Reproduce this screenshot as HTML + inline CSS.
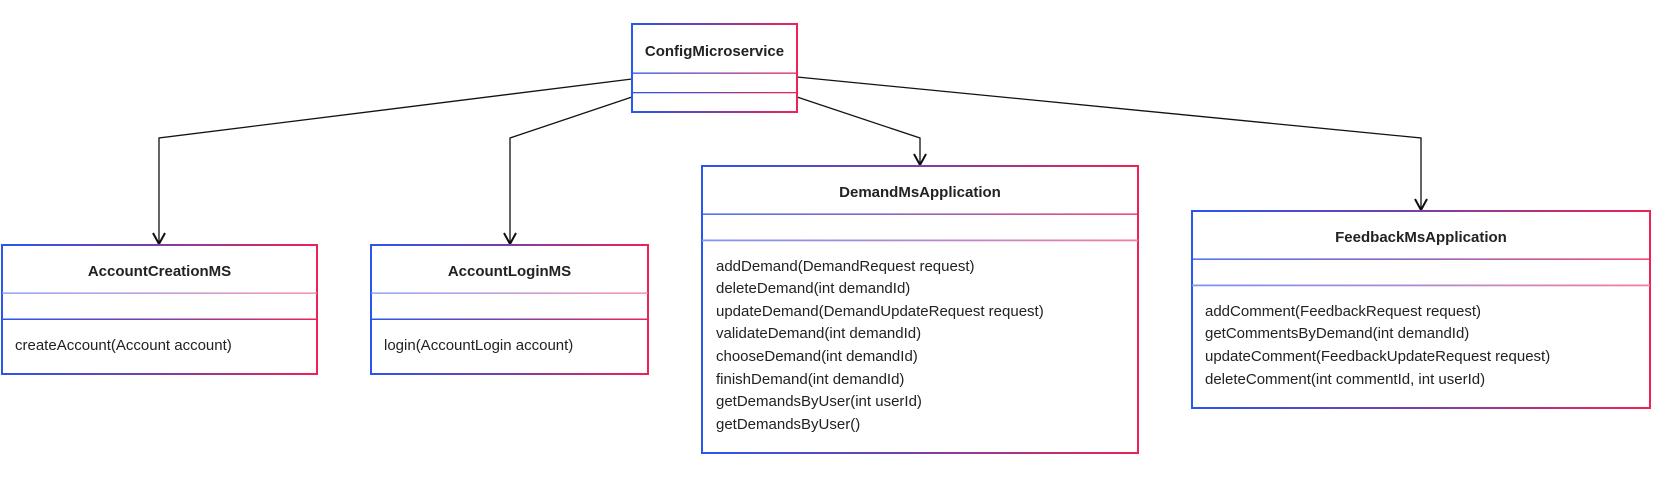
<!DOCTYPE html>
<html><head><meta charset="utf-8"><style>
html,body{margin:0;padding:0;background:#fff;}
svg text{font-family:"Liberation Sans",Arial,sans-serif;fill:#222;}
.t{font-weight:bold;font-size:15px;}
.m{font-size:15px;}
</style></head><body>
<svg width="1656" height="478" viewBox="0 0 1656 478" xmlns="http://www.w3.org/2000/svg">
<defs>
<linearGradient id="g" x1="0" y1="0" x2="1" y2="0"><stop offset="0" stop-color="#2a55ee"/><stop offset="0.5" stop-color="#7a3fa8"/><stop offset="1" stop-color="#ee2255"/></linearGradient>
<linearGradient id="gl" x1="0" y1="0" x2="1" y2="0"><stop offset="0" stop-color="#7f95f5"/><stop offset="0.5" stop-color="#b28ad0"/><stop offset="1" stop-color="#f27ea0"/></linearGradient>
</defs>
<g fill="none" stroke="#111" stroke-width="1.3">
<polyline points="632,79 159,138 159,243"/>
<polyline points="632,97 510,138 510,243"/>
<polyline points="797,97 920,138 920,164"/>
<polyline points="797,77 1421,138 1421,209"/>
</g>
<g fill="none" stroke="#111" stroke-width="2">
<polyline points="153,233 159,244 165,233"/>
<polyline points="504,233 510,244 516,233"/>
<polyline points="914,154 920,165 926,154"/>
<polyline points="1415,199 1421,210 1427,199"/>
</g>
<g fill="none" stroke-width="2">
<rect x="632" y="24" width="165" height="88" stroke="url(#g)"/>
<rect x="2" y="245" width="315" height="129" stroke="url(#g)"/>
<rect x="371" y="245" width="277" height="129" stroke="url(#g)"/>
<rect x="702" y="166" width="436" height="287" stroke="url(#g)"/>
<rect x="1192" y="211" width="458" height="197" stroke="url(#g)"/>
</g>
<g>
<rect x="632" y="72.5" width="165" height="1.3" fill="url(#g)"/>
<rect x="632" y="92" width="165" height="1.3" fill="url(#g)"/>
<rect x="2" y="292.5" width="315" height="1.3" fill="url(#gl)"/>
<rect x="2" y="318.5" width="315" height="1.5" fill="url(#g)"/>
<rect x="371" y="292.5" width="277" height="1.3" fill="url(#gl)"/>
<rect x="371" y="318.5" width="277" height="1.5" fill="url(#g)"/>
<rect x="702" y="213.5" width="436" height="1.3" fill="url(#g)"/>
<rect x="702" y="239.5" width="436" height="1.8" fill="url(#gl)"/>
<rect x="1192" y="258.5" width="458" height="1.3" fill="url(#g)"/>
<rect x="1192" y="284.5" width="458" height="1.8" fill="url(#gl)"/>
</g>
<text class="t" x="714.5" y="56" text-anchor="middle">ConfigMicroservice</text>
<text class="t" x="159.5" y="276" text-anchor="middle">AccountCreationMS</text>
<text class="m" x="15" y="350">createAccount(Account account)</text>
<text class="t" x="509.5" y="276" text-anchor="middle">AccountLoginMS</text>
<text class="m" x="384" y="350">login(AccountLogin account)</text>
<text class="t" x="920" y="197" text-anchor="middle">DemandMsApplication</text>
<text class="m" x="716" y="271">addDemand(DemandRequest request)</text>
<text class="m" x="716" y="293">deleteDemand(int demandId)</text>
<text class="m" x="716" y="316">updateDemand(DemandUpdateRequest request)</text>
<text class="m" x="716" y="338">validateDemand(int demandId)</text>
<text class="m" x="716" y="361">chooseDemand(int demandId)</text>
<text class="m" x="716" y="384">finishDemand(int demandId)</text>
<text class="m" x="716" y="406">getDemandsByUser(int userId)</text>
<text class="m" x="716" y="429">getDemandsByUser()</text>
<text class="t" x="1421" y="242" text-anchor="middle">FeedbackMsApplication</text>
<text class="m" x="1205" y="316">addComment(FeedbackRequest request)</text>
<text class="m" x="1205" y="338">getCommentsByDemand(int demandId)</text>
<text class="m" x="1205" y="361">updateComment(FeedbackUpdateRequest request)</text>
<text class="m" x="1205" y="384">deleteComment(int commentId, int userId)</text>
</svg>
</body></html>
